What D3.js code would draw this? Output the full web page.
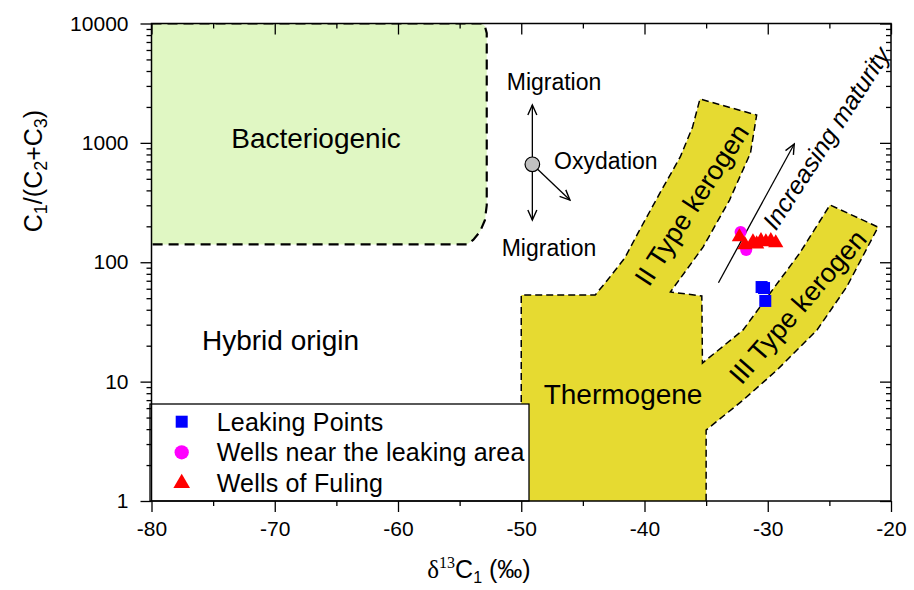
<!DOCTYPE html>
<html><head><meta charset="utf-8">
<script src="https://cdn.jsdelivr.net/npm/d3@7"></script>
<style>body{margin:0;background:#fff}svg{display:block}</style>
</head><body><svg id="c" width="914" height="590"></svg>
<script>
// ---------- data ----------
const xTicks = [-80, -70, -60, -50, -40, -30, -20];
const xMinorTicks = [-75, -65, -55, -45, -35, -25];
const yTicks = [1, 10, 100, 1000, 10000];
const yMinorTicks = [1, 10, 100, 1000].flatMap(d => [2,3,4,5,6,7,8,9].map(m => m * d));

const leakingPoints = [[-30.5, 62], [-30.3, 60.8], [-30.2, 47.4]];
const wellsNearLeaking = [[-32.2, 179], [-31.75, 127]];
const wellsFuling = [[-32.3, 163], [-31.85, 140], [-31.2, 148], [-30.9, 142], [-30.55, 151],
                     [-30.15, 148], [-29.75, 151], [-29.35, 145]];

const bacteriogenicRegion = [[-80, 141], [-80, 10000], [-53.2, 10000], [-52.95, 9500], [-52.8, 8300],
  [-52.8, 300], [-52.95, 225], [-53.35, 180], [-53.9, 154], [-54.4, 141], [-80, 141]];

const thermogenicRegion = [[-50, 1], [-50, 53.2], [-44.0, 53.2], [-43.0, 71], [-41.6, 108.5],
  [-40.4, 186], [-38.7, 388], [-37.1, 762], [-36.1, 1358], [-35.5, 2331], [-30.9, 1712],
  [-31.4, 823], [-33.1, 332], [-35.25, 134], [-37.9, 56.3], [-35.35, 52.2], [-35.3, 14.3],
  [-32.0, 27.1], [-29.8, 55.3], [-27.4, 119.5], [-24.95, 302], [-21.05, 197], [-23.6, 62],
  [-26.0, 27.1], [-29.25, 12.5], [-32.0, 7.0], [-35.0, 3.93], [-35.0, 1]];

const regionLabels = [
  {text: "Bacteriogenic", x: -66.65, y: 1098, angle: 0},
  {text: "Hybrid origin", x: -69.53, y: 21.9, angle: 0},
  {text: "Thermogene", x: -41.74, y: 7.73, angle: 0},
  {text: "II Type kerogen", x: -36.15, y: 302, angle: -57},
  {text: "III Type kerogen", x: -27.55, y: 42.2, angle: -49}
];
const migrationCenter = [-49.1, 661.6];
const migrationTips = [[-49.1, 2076], [-49.1, 226], [-46.05, 332]];
const maturityArrow = [[-34.0, 67.4], [-27.85, 979]];
const legendItems = ["Leaking Points", "Wells near the leaking area", "Wells of Fuling"];

// ---------- chart ----------
const svg = d3.select("#c");
const FONT = "Arial, 'Liberation Sans', sans-serif";
const x = d3.scaleLinear().domain([-80, -20]).range([151.5, 891]);
const y = d3.scaleLog().domain([1, 10000]).range([501, 23.5]);
const line = d3.line().x(d => x(d[0])).y(d => y(d[1]));

const defs = svg.append("defs");
defs.append("clipPath").attr("id", "plot").append("rect")
  .attr("x", 151.5).attr("y", 23.5).attr("width", 739.5).attr("height", 477.5);
defs.append("marker").attr("id", "arr").attr("markerUnits", "userSpaceOnUse")
  .attr("viewBox", "-12 -6 14 12").attr("refX", 0).attr("refY", 0)
  .attr("markerWidth", 14).attr("markerHeight", 12).attr("orient", "auto")
  .append("path").attr("d", "M-10,-4.5 L0,0 L-10,4.5").attr("fill", "none")
  .attr("stroke", "#000").attr("stroke-width", 1.4);

const g = svg.append("g").attr("clip-path", "url(#plot)");

// regions
g.append("path").attr("d", line(bacteriogenicRegion) + "Z").attr("fill", "#e0f7c3");
g.append("path").attr("d", line(bacteriogenicRegion.slice(1, 10)) + "L" + x(-80) + "," + y(141))
  .attr("fill", "none").attr("stroke", "#000").attr("stroke-width", 2.2).attr("stroke-dasharray", "10,6");
g.append("path").attr("d", line(thermogenicRegion) + "Z").attr("fill", "#e6da31");
g.append("path").attr("d", line(thermogenicRegion)).attr("fill", "none")
  .attr("stroke", "#000").attr("stroke-width", 1.5).attr("stroke-dasharray", "7,4");

// region labels
regionLabels.forEach(l => {
  const big = l.angle === 0;
  g.append("text").text(l.text)
    .attr("transform", `translate(${x(l.x)},${y(l.y)}) rotate(${l.angle})`)
    .attr("text-anchor", "middle").attr("dominant-baseline", "central")
    .attr("font-family", FONT).attr("font-size", big ? 28 : 27).attr("fill", "#000");
});

// migration / oxydation symbol
const cx = x(migrationCenter[0]), cy = y(migrationCenter[1]), r = 7.3;
migrationTips.forEach(t => {
  const tx = x(t[0]), ty = y(t[1]);
  const dx = tx - cx, dy = ty - cy, len = Math.hypot(dx, dy);
  g.append("line").attr("x1", cx + dx / len * r).attr("y1", cy + dy / len * r)
    .attr("x2", tx).attr("y2", ty).attr("stroke", "#000").attr("stroke-width", 1.3)
    .attr("marker-end", "url(#arr)");
});
g.append("circle").attr("cx", cx).attr("cy", cy).attr("r", r)
  .attr("fill", "#c0c0c0").attr("stroke", "#000").attr("stroke-width", 1.2);
const annFont = 23;
g.append("text").text("Migration").attr("x", x(-47.34)).attr("y", y(3236))
  .attr("text-anchor", "middle").attr("dominant-baseline", "central")
  .attr("font-family", FONT).attr("font-size", annFont);
g.append("text").text("Migration").attr("x", x(-47.75)).attr("y", y(131.7))
  .attr("text-anchor", "middle").attr("dominant-baseline", "central")
  .attr("font-family", FONT).attr("font-size", annFont);
g.append("text").text("Oxydation").attr("x", x(-47.34)).attr("y", y(705))
  .attr("text-anchor", "start").attr("dominant-baseline", "central")
  .attr("font-family", FONT).attr("font-size", annFont);

// maturity arrow
g.append("line").attr("x1", x(maturityArrow[0][0])).attr("y1", y(maturityArrow[0][1]))
  .attr("x2", x(maturityArrow[1][0])).attr("y2", y(maturityArrow[1][1]))
  .attr("stroke", "#000").attr("stroke-width", 1.3).attr("marker-end", "url(#arr)");
g.append("text").text("Increasing maturity")
  .attr("transform", `translate(${x(-25.27)},${y(1098)}) rotate(-57)`)
  .attr("text-anchor", "middle").attr("dominant-baseline", "central")
  .attr("font-family", FONT).attr("font-style", "italic").attr("font-size", 25);

// points
const sq = d3.symbol().type(d3.symbolSquare).size(144);
const ci = d3.symbol().type(d3.symbolCircle).size(115);
const tr = d3.symbol().type(d3.symbolTriangle).size(100);
g.selectAll(".lp").data(leakingPoints).join("path").attr("d", sq)
  .attr("transform", d => `translate(${x(d[0])},${y(d[1])})`).attr("fill", "#0000ff");
g.selectAll(".wn").data(wellsNearLeaking).join("path").attr("d", ci)
  .attr("transform", d => `translate(${x(d[0])},${y(d[1])})`).attr("fill", "#ff00ff");
g.selectAll(".wf").data(wellsFuling).join("path").attr("d", tr)
  .attr("transform", d => `translate(${x(d[0])},${y(d[1])})`).attr("fill", "#ff0000");

// legend
const lg = svg.append("g");
lg.append("rect").attr("x", 150).attr("y", 404).attr("width", 379).attr("height", 97)
  .attr("fill", "#fff").attr("stroke", "#000").attr("stroke-width", 1.3);
const rows = [421.7, 452.3, 483.3];
const syms = [[sq, "#0000ff"], [d3.symbol().type(d3.symbolCircle).size(160), "#ff00ff"],
              [d3.symbol().type(d3.symbolTriangle).size(120), "#ff0000"]];
legendItems.forEach((t, i) => {
  lg.append("path").attr("d", syms[i][0]).attr("fill", syms[i][1])
    .attr("transform", `translate(181.7,${rows[i]})`);
  lg.append("text").text(t).attr("x", 216.7).attr("y", rows[i]).attr("dominant-baseline", "central")
    .attr("font-family", FONT).attr("font-size", 25).attr("letter-spacing", 0.2);
});

// axes
function style(sel) {
  sel.select(".domain").remove();
  sel.selectAll(".tick line").attr("stroke", "#000").attr("stroke-width", 1.3);
  sel.selectAll("text").attr("font-family", FONT).attr("font-size", 21).attr("fill", "#000");
}
const fmt = d => String(d);
svg.append("g").attr("transform", "translate(0,501)")
  .call(d3.axisBottom(x).tickValues(xTicks).tickSize(11).tickPadding(9).tickFormat(fmt)).call(style);
svg.append("g").attr("transform", "translate(0,501)")
  .call(d3.axisBottom(x).tickValues(xMinorTicks).tickSize(5).tickFormat("")).call(style);
svg.append("g").attr("transform", "translate(0,23.5)")
  .call(d3.axisTop(x).tickValues(xTicks).tickSize(-11).tickFormat("")).call(style);
svg.append("g").attr("transform", "translate(0,23.5)")
  .call(d3.axisTop(x).tickValues(xMinorTicks).tickSize(-5).tickFormat("")).call(style);
svg.append("g").attr("transform", "translate(151.5,0)")
  .call(d3.axisLeft(y).tickValues(yTicks).tickSize(11).tickPadding(12).tickFormat(fmt)).call(style);
svg.append("g").attr("transform", "translate(151.5,0)")
  .call(d3.axisLeft(y).tickValues(yMinorTicks).tickSize(5).tickFormat("")).call(style);
svg.append("g").attr("transform", "translate(891,0)")
  .call(d3.axisRight(y).tickValues(yTicks).tickSize(-11).tickFormat("")).call(style);
svg.append("g").attr("transform", "translate(891,0)")
  .call(d3.axisRight(y).tickValues(yMinorTicks).tickSize(-5).tickFormat("")).call(style);
svg.append("rect").attr("x", 151.5).attr("y", 23.5).attr("width", 739.5).attr("height", 477.5)
  .attr("fill", "none").attr("stroke", "#000").attr("stroke-width", 1.5);

// axis titles
const xt = svg.append("text").attr("x", 479).attr("y", 578).attr("text-anchor", "middle")
  .attr("font-family", FONT).attr("font-size", 25);
xt.append("tspan").text("δ").attr("font-family", "'Liberation Serif', 'Times New Roman', serif");
xt.append("tspan").text("13").attr("font-family", "'Liberation Serif', 'Times New Roman', serif")
  .attr("font-size", 16).attr("dy", -10);
xt.append("tspan").text("C").attr("dy", 10);
xt.append("tspan").text("1").attr("font-size", 16).attr("dy", 5);
xt.append("tspan").text(" (‰)").attr("dy", -5);

const yt = svg.append("text").attr("transform", "translate(42,171) rotate(-90)")
  .attr("text-anchor", "middle").attr("font-family", FONT).attr("font-size", 25);
yt.append("tspan").text("C");
yt.append("tspan").text("1").attr("font-size", 18).attr("dy", 5);
yt.append("tspan").text("/(C").attr("dy", -5);
yt.append("tspan").text("2").attr("font-size", 18).attr("dy", 5);
yt.append("tspan").text("+C").attr("dy", -5);
yt.append("tspan").text("3").attr("font-size", 18).attr("dy", 5);
yt.append("tspan").text(")").attr("dy", -5);
</script></body></html>
